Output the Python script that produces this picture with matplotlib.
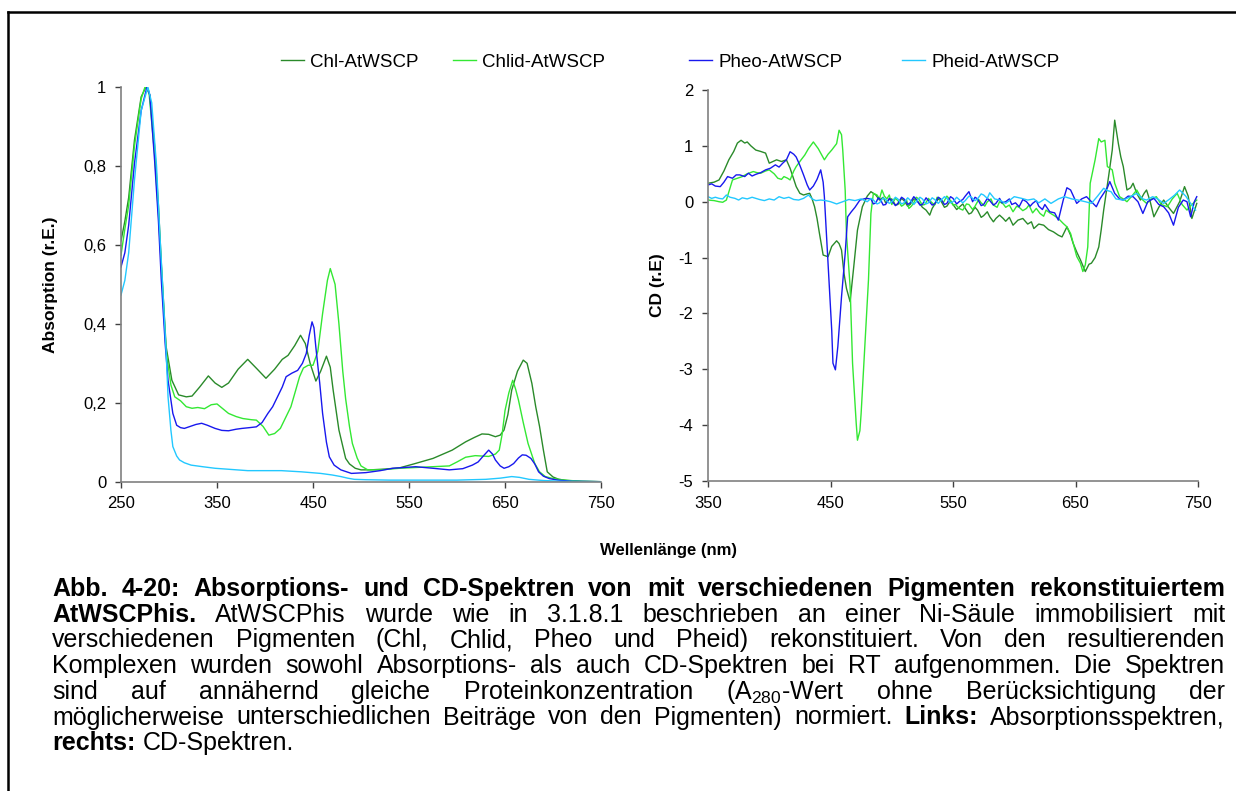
import matplotlib
matplotlib.use("Agg")
import matplotlib.pyplot as plt
from matplotlib.lines import Line2D

plt.rcParams['font.family'] = ['Liberation Sans', 'DejaVu Sans']
plt.rcParams['mathtext.fontset'] = 'custom'
plt.rcParams['mathtext.rm'] = 'Liberation Sans'
plt.rcParams['mathtext.it'] = 'Liberation Sans:italic'
plt.rcParams['mathtext.bf'] = 'Liberation Sans:bold'

# ==========================================
# DATA
# ==========================================
labels = ['Chl-AtWSCP', 'Chlid-AtWSCP', 'Pheo-AtWSCP', 'Pheid-AtWSCP']
colors = ['#2a8a2a', '#33e833', '#1818ee', '#22c8ff']

# --- absorption (left) ---
abs_chl = [(250, 0.61), (254, 0.66), (258, 0.72), (264, 0.865), (271, 0.975), (276, 1.0), (280, 0.98),
           (285, 0.85), (289, 0.70), (292, 0.553), (297, 0.342), (303, 0.257), (310, 0.22), (318, 0.215),
           (324, 0.217), (332, 0.24), (341, 0.268), (348, 0.25), (355, 0.239), (362, 0.25), (372, 0.285),
           (382, 0.31), (392, 0.285), (401, 0.262), (410, 0.285), (418, 0.31), (424, 0.32), (431, 0.345),
           (437, 0.371), (442, 0.35), (447, 0.30), (453, 0.255), (458, 0.28), (464, 0.318), (468, 0.29),
           (471, 0.232), (477, 0.131), (484, 0.059), (488, 0.045), (494, 0.034), (500, 0.03), (510, 0.03),
           (525, 0.032), (540, 0.035), (555, 0.045), (575, 0.059), (595, 0.08), (609, 0.101), (618, 0.112),
           (626, 0.121), (633, 0.12), (640, 0.114), (645, 0.118), (649, 0.131), (653, 0.17), (657, 0.232),
           (663, 0.28), (669, 0.308), (673, 0.30), (678, 0.249), (682, 0.19), (686, 0.14), (690, 0.08),
           (694, 0.025), (700, 0.012), (706, 0.006), (715, 0.003), (730, 0.001), (750, 0.0)]

abs_chlid = [(250, 0.574), (254, 0.64), (258, 0.70), (264, 0.85), (271, 0.97), (275, 1.0), (279, 0.99),
             (285, 0.83), (289, 0.68), (293, 0.50), (297, 0.33), (302, 0.245), (306, 0.215), (312, 0.205),
             (318, 0.19), (324, 0.186), (330, 0.188), (337, 0.185), (344, 0.195), (350, 0.197), (356, 0.185),
             (362, 0.173), (370, 0.165), (377, 0.16), (386, 0.157), (391, 0.156), (398, 0.14), (404, 0.118),
             (410, 0.122), (416, 0.135), (422, 0.165), (427, 0.19), (432, 0.232), (436, 0.266), (440, 0.288),
             (445, 0.295), (450, 0.295), (455, 0.33), (460, 0.426), (465, 0.51), (468, 0.54), (473, 0.50),
             (477, 0.40), (481, 0.28), (484, 0.21), (488, 0.14), (491, 0.097), (496, 0.06), (500, 0.04),
             (507, 0.03), (520, 0.03), (540, 0.034), (575, 0.038), (592, 0.04), (600, 0.05), (609, 0.062),
             (619, 0.066), (633, 0.064), (640, 0.07), (644, 0.08), (647, 0.12), (650, 0.18), (654, 0.225),
             (658, 0.257), (661, 0.235), (664, 0.207), (669, 0.15), (674, 0.097), (681, 0.046), (686, 0.025),
             (692, 0.013), (700, 0.008), (712, 0.004), (730, 0.001), (750, 0.0)]

abs_pheo = [(250, 0.544), (254, 0.58), (258, 0.65), (264, 0.806), (271, 0.94), (277, 1.0), (280, 0.98),
            (285, 0.814), (289, 0.66), (292, 0.51), (296, 0.35), (299, 0.257), (304, 0.173), (308, 0.143),
            (312, 0.137), (316, 0.135), (322, 0.14), (328, 0.145), (334, 0.148), (340, 0.143), (348, 0.135),
            (355, 0.13), (362, 0.129), (370, 0.133), (376, 0.135), (384, 0.137), (391, 0.139), (397, 0.15),
            (403, 0.173), (408, 0.19), (413, 0.215), (418, 0.24), (422, 0.266), (428, 0.275), (434, 0.282),
            (439, 0.30), (443, 0.325), (446, 0.37), (449, 0.405), (451, 0.39), (453, 0.34), (457, 0.25),
            (460, 0.173), (464, 0.10), (467, 0.063), (472, 0.042), (479, 0.03), (490, 0.021), (505, 0.023),
            (520, 0.028), (533, 0.034), (557, 0.038), (575, 0.034), (592, 0.03), (606, 0.033), (616, 0.042),
            (622, 0.05), (627, 0.064), (633, 0.08), (637, 0.07), (640, 0.055), (645, 0.04), (649, 0.034),
            (654, 0.038), (659, 0.046), (664, 0.06), (668, 0.068), (672, 0.067), (677, 0.059), (681, 0.045),
            (685, 0.025), (690, 0.014), (696, 0.008), (705, 0.004), (720, 0.001), (750, 0.0)]

abs_pheid = [(250, 0.473), (254, 0.51), (258, 0.58), (264, 0.763), (271, 0.94), (278, 1.0), (282, 0.96),
             (287, 0.80), (290, 0.65), (294, 0.468), (297, 0.33), (299, 0.215), (302, 0.13), (304, 0.089),
             (308, 0.065), (311, 0.055), (316, 0.048), (323, 0.042), (335, 0.038), (348, 0.034), (365, 0.031),
             (382, 0.028), (400, 0.028), (417, 0.028), (438, 0.025), (458, 0.021), (470, 0.017), (479, 0.013),
             (486, 0.009), (493, 0.006), (505, 0.005), (530, 0.004), (560, 0.004), (600, 0.004), (630, 0.006),
             (645, 0.009), (657, 0.013), (665, 0.011), (675, 0.006), (690, 0.003), (710, 0.001), (750, 0.0)]

# --- CD (right) ---
cd_chl = [(350, 0.33), (355, 0.35), (359, 0.39), (363, 0.55), (367, 0.75), (371, 0.90), (374, 1.05), (377, 1.10),
          (380, 1.05), (382, 1.07), (385, 1.0), (389, 0.925), (393, 0.90), (397, 0.87), (400, 0.69), (403, 0.72),
          (406, 0.75), (410, 0.72), (414, 0.75), (417, 0.60), (420, 0.40), (422, 0.27), (425, 0.15), (428, 0.12),
          (431, 0.14), (433, 0.15), (435, 0.05), (437, -0.09), (439, -0.30), (441, -0.57), (444, -0.955),
          (448, -0.985), (451, -0.80), (455, -0.70), (457, -0.75), (459, -0.865), (461, -1.28), (463, -1.55),
          (466, -1.79), (469, -1.16), (472, -0.51), (476, -0.09), (480, 0.10), (483, 0.18), (487, 0.12),
          (490, 0.03), (493, 0.08), (495, -0.02), (498, 0.04), (500, 0.05), (503, -0.06), (505, -0.05),
          (508, 0.06), (510, 0.02), (513, -0.08), (515, -0.05), (518, 0.05), (520, 0.03), (523, -0.04),
          (525, -0.10), (528, -0.15), (531, -0.24), (533, -0.12), (535, -0.05), (538, 0.05), (540, 0.02),
          (543, -0.1), (545, -0.08), (548, 0.02), (550, -0.05), (553, -0.14), (555, -0.10), (558, -0.04),
          (560, -0.12), (563, -0.22), (565, -0.20), (568, -0.1), (570, -0.15), (573, -0.28), (575, -0.25),
          (578, -0.18), (580, -0.27), (583, -0.36), (585, -0.30), (588, -0.24), (591, -0.3), (593, -0.35),
          (596, -0.28), (599, -0.42), (603, -0.33), (607, -0.30), (611, -0.40), (614, -0.36), (616, -0.48),
          (620, -0.40), (624, -0.42), (628, -0.50), (632, -0.54), (636, -0.60), (639, -0.63), (643, -0.45),
          (646, -0.60), (648, -0.74), (651, -0.90), (654, -1.04), (658, -1.25), (661, -1.12), (663, -1.10),
          (666, -1.0), (669, -0.81), (671, -0.50), (673, -0.15), (675, 0.15), (677, 0.45), (680, 0.925),
          (682, 1.46), (685, 1.04), (687, 0.80), (689, 0.63), (692, 0.21), (695, 0.25), (697, 0.33),
          (700, 0.15), (703, 0.03), (706, 0.15), (708, 0.21), (711, 0.0), (714, -0.27), (718, -0.10),
          (722, 0.03), (726, -0.10), (730, -0.21), (735, 0.0), (739, 0.27), (742, 0.10), (745, -0.30),
          (749, -0.03)]

cd_chlid = [(350, 0.03), (355, 0.02), (359, 0.0), (362, -0.01), (365, 0.03), (368, 0.25), (370, 0.39),
            (374, 0.42), (378, 0.45), (382, 0.50), (387, 0.54), (390, 0.52), (393, 0.51), (397, 0.55),
            (400, 0.57), (404, 0.50), (407, 0.42), (410, 0.40), (412, 0.45), (415, 0.42), (417, 0.39),
            (420, 0.55), (422, 0.63), (426, 0.75), (429, 0.836), (432, 0.95), (436, 1.07), (440, 0.95),
            (445, 0.75), (448, 0.85), (451, 0.925), (455, 1.04), (457, 1.28), (459, 1.20), (460, 0.925),
            (462, 0.20), (463, -0.57), (466, -1.52), (468, -2.89), (471, -3.97), (472, -4.27), (474, -4.10),
            (475, -3.79), (478, -2.59), (481, -1.40), (483, -0.21), (485, 0.15), (488, 0.12), (490, 0.05),
            (492, 0.21), (494, 0.1), (496, 0.05), (498, 0.12), (500, -0.05), (503, 0.06), (505, 0.02),
            (508, -0.08), (510, -0.05), (512, 0.04), (514, -0.12), (516, -0.08), (518, -0.02), (520, 0.08),
            (522, 0.05), (525, -0.06), (527, -0.05), (530, 0.06), (532, 0.0), (535, -0.06), (537, 0.08),
            (540, 0.04), (542, -0.02), (545, 0.1), (547, 0.05), (550, -0.06), (552, -0.05), (555, -0.12),
            (558, -0.15), (561, -0.04), (563, -0.05), (566, -0.14), (568, -0.08), (571, 0.04), (573, -0.02),
            (576, -0.08), (578, 0.0), (581, 0.05), (583, -0.06), (586, -0.1), (588, 0.0), (591, -0.04),
            (593, -0.10), (596, -0.06), (599, -0.18), (602, -0.08), (604, -0.10), (607, -0.16), (610, -0.12),
            (612, -0.06), (615, -0.20), (618, -0.12), (621, -0.21), (624, -0.26), (626, -0.15), (629, -0.2),
            (632, -0.24), (636, -0.30), (640, -0.39), (643, -0.45), (646, -0.57), (651, -0.98), (654, -1.10),
            (656, -1.25), (658, -1.13), (660, -0.81), (662, 0.33), (666, 0.75), (669, 1.13), (671, 1.07),
            (674, 1.10), (676, 0.63), (680, 0.57), (682, 0.33), (686, 0.09), (689, 0.05), (692, 0.0),
            (696, 0.10), (700, 0.21), (704, 0.05), (708, -0.03), (712, 0.05), (716, 0.09), (720, -0.05),
            (725, -0.09), (729, 0.05), (733, 0.15), (737, -0.05), (741, -0.15), (745, -0.05), (749, 0.03)]

cd_pheo = [(350, 0.30), (353, 0.32), (356, 0.28), (360, 0.27), (363, 0.35), (366, 0.45), (370, 0.42),
           (373, 0.48), (376, 0.48), (380, 0.45), (383, 0.51), (386, 0.46), (389, 0.49), (393, 0.52),
           (397, 0.57), (401, 0.60), (405, 0.66), (408, 0.62), (411, 0.69), (414, 0.75), (417, 0.895),
           (420, 0.85), (422, 0.80), (425, 0.65), (428, 0.48), (431, 0.30), (433, 0.21), (436, 0.28),
           (439, 0.40), (442, 0.57), (444, 0.35), (445, 0.09), (448, -1.10), (451, -2.30), (452, -2.89),
           (454, -3.01), (456, -2.59), (459, -1.70), (462, -0.92), (464, -0.27), (467, -0.18), (470, -0.10),
           (474, 0.03), (479, 0.06), (483, 0.05), (485, -0.04), (487, -0.02), (489, 0.07), (491, 0.03),
           (493, -0.06), (495, -0.05), (498, 0.06), (500, 0.02), (503, -0.07), (505, -0.03), (508, 0.08),
           (510, 0.05), (513, -0.05), (515, -0.02), (518, 0.09), (520, 0.04), (523, -0.06), (525, -0.05),
           (528, 0.07), (530, 0.02), (533, -0.06), (535, -0.04), (538, 0.08), (540, 0.05), (543, -0.05),
           (545, -0.03), (548, 0.09), (550, 0.06), (553, -0.04), (555, 0.0), (558, 0.04), (560, 0.10),
           (563, 0.18), (566, 0.0), (568, 0.08), (570, 0.05), (573, -0.07), (575, -0.05), (578, 0.06),
           (580, 0.02), (583, -0.06), (585, -0.03), (588, 0.06), (590, -0.02), (593, 0.0), (596, 0.05),
           (598, -0.05), (601, -0.02), (604, -0.09), (607, 0.04), (610, 0.0), (613, -0.08), (615, -0.03),
           (618, 0.02), (620, -0.08), (623, -0.14), (625, -0.05), (629, -0.18), (633, -0.20), (636, -0.33),
           (640, 0.03), (643, 0.25), (646, 0.21), (651, -0.03), (655, 0.05), (659, 0.09), (663, 0.0),
           (667, -0.09), (670, 0.05), (673, 0.15), (676, 0.25), (678, 0.36), (682, 0.15), (686, 0.05),
           (689, 0.03), (693, 0.10), (697, 0.09), (701, 0.0), (705, -0.21), (709, 0.0), (714, 0.06),
           (718, -0.05), (722, -0.09), (726, -0.20), (730, -0.42), (734, -0.10), (738, 0.03), (741, 0.0),
           (744, -0.27), (747, 0.0), (749, 0.09)]

cd_pheid = [(350, 0.09), (353, 0.06), (356, 0.08), (359, 0.06), (362, 0.05), (365, 0.12), (368, 0.08),
            (372, 0.06), (375, 0.03), (378, 0.07), (382, 0.05), (386, 0.08), (389, 0.06), (392, 0.04),
            (396, 0.02), (400, 0.05), (404, 0.03), (408, 0.09), (412, 0.06), (416, 0.08), (420, 0.04),
            (424, 0.03), (428, 0.06), (432, 0.12), (435, 0.05), (438, 0.02), (442, 0.03), (446, 0.02),
            (450, 0.0), (455, -0.04), (460, 0.0), (465, 0.04), (470, 0.02), (475, 0.05), (480, 0.0),
            (483, 0.06), (485, 0.03), (488, -0.04), (490, -0.02), (493, 0.07), (495, 0.04), (498, -0.03),
            (500, 0.0), (503, 0.08), (505, 0.05), (508, -0.04), (510, -0.02), (513, 0.07), (515, 0.03),
            (518, -0.05), (520, 0.0), (523, 0.08), (525, 0.05), (528, -0.04), (530, -0.02), (533, 0.07),
            (535, 0.04), (538, -0.03), (540, 0.02), (543, 0.09), (545, 0.06), (548, -0.02), (550, 0.0),
            (553, 0.08), (555, 0.04), (558, -0.02), (560, 0.02), (563, 0.1), (565, 0.08), (568, 0.02),
            (570, 0.05), (573, 0.14), (575, 0.12), (578, 0.06), (580, 0.16), (584, 0.05), (588, 0.03),
            (593, -0.03), (600, 0.09), (606, 0.06), (611, 0.03), (616, 0.05), (620, -0.02), (625, 0.05),
            (630, -0.03), (636, 0.05), (641, 0.09), (647, 0.05), (652, 0.03), (658, 0.0), (663, -0.03),
            (668, 0.10), (673, 0.24), (676, 0.20), (679, 0.18), (683, 0.05), (689, 0.03), (694, 0.08),
            (700, 0.15), (705, 0.05), (708, 0.03), (713, 0.09), (717, 0.05), (722, -0.03), (727, 0.05),
            (731, 0.12), (735, 0.21), (740, 0.10), (744, -0.03), (748, -0.15)]

abs_series = [abs_chl, abs_chlid, abs_pheo, abs_pheid]
cd_series = [cd_chl, cd_chlid, cd_pheo, cd_pheid]

abs_ticks = [0, 0.2, 0.4, 0.6, 0.8, 1]
abs_ticklabels = ['0', '0,2', '0,4', '0,6', '0,8', '1']
cd_ticks = [-5, -4, -3, -2, -1, 0, 1, 2]
cd_ticklabels = ['-5', '-4', '-3', '-2', '-1', '0', '1', '2']
abs_xticks = [250, 350, 450, 550, 650, 750]
cd_xticks = [350, 450, 550, 650, 750]

caption = [
    ([("Abb. 4-20: Absorptions- und CD-Spektren von mit verschiedenen Pigmenten rekonstituiertem", True)], True),
    ([("AtWSCPhis.", True), ("AtWSCPhis wurde wie in 3.1.8.1 beschrieben an einer Ni-Säule immobilisiert mit", False)], True),
    ([("verschiedenen Pigmenten (Chl, Chlid, Pheo und Pheid) rekonstituiert. Von den resultierenden", False)], True),
    ([("Komplexen wurden sowohl Absorptions- als auch CD-Spektren bei RT aufgenommen. Die Spektren", False)], True),
    ([("sind auf annähernd gleiche Proteinkonzentration (A$_{280}$-Wert ohne Berücksichtigung der", False)], True),
    ([("möglicherweise unterschiedlichen Beiträge von den Pigmenten) normiert.", False), ("Links:", True),
      ("Absorptionsspektren,", False)], True),
    ([("rechts:", True), ("CD-Spektren.", False)], False),
]

# ==========================================
# FIGURE
# ==========================================
W, H = 1236, 791
fig = plt.figure(figsize=(W / 100, H / 100), dpi=100)

ax1 = fig.add_axes([121 / W, 1 - 481.7 / H, 480 / W, 394.7 / H])
ax2 = fig.add_axes([708 / W, 1 - 481 / H, 490 / W, 391 / H])

for ax in (ax1, ax2):
    for s in ('top', 'right'):
        ax.spines[s].set_visible(False)
    for s in ('left', 'bottom'):
        ax.spines[s].set_color('#808080')
        ax.spines[s].set_linewidth(1.2)
    ax.tick_params(direction='out', length=4.5, width=1, color='#404040', labelsize=12, pad=6)

handles = []
for data, c, lab in zip(abs_series, colors, labels):
    wl = [p[0] for p in data]
    val = [p[1] for p in data]
    h, = ax1.plot(wl, val, color=c, lw=1.0, label=lab)
    handles.append(h)

for data, c in zip(cd_series, colors):
    wl = [p[0] for p in data]
    val = [p[1] for p in data]
    ax2.plot(wl, val, color=c, lw=1.0)

ax1.set_xlim(250, 750)
ax1.set_ylim(0, 1)
ax1.set_xticks(abs_xticks)
ax1.set_yticks(abs_ticks)
ax1.set_yticklabels(abs_ticklabels)
ax1.set_ylabel('Absorption (r.E.)', fontsize=12.5, fontweight='bold', labelpad=18)

ax2.set_xlim(350, 750)
ax2.set_ylim(-5, 2)
ax2.set_xticks(cd_xticks)
ax2.set_yticks(cd_ticks)
ax2.set_yticklabels(cd_ticklabels)
ax2.set_ylabel('CD (r.E)', fontsize=12.5, fontweight='bold', labelpad=10)

fig.text(668 / W, 1 - 550 / H, 'Wellenlänge (nm)', ha='center', va='center',
         fontsize=12, fontweight='bold')

# legend entries placed like the original (Excel) layout
legend_x = [281, 453, 689, 902]
for h, lx in zip(handles, legend_x):
    fig.legend(handles=[h], loc='center left', bbox_to_anchor=(lx / W, 1 - 62 / H),
               frameon=False, fontsize=13.5, handlelength=1.25, handletextpad=0.3,
               borderpad=0, borderaxespad=0)

# frame lines (top and left edge of the page box)
fig.add_artist(Line2D([8 / W, 8 / W], [0, 1 - 12 / H], transform=fig.transFigure, color='black', lw=1.8))
fig.add_artist(Line2D([8 / W, 1], [1 - 12 / H, 1 - 12 / H], transform=fig.transFigure, color='black', lw=1.8))

# justified caption
renderer = fig.canvas.get_renderer()
cap_size = 18
x0, x1 = 52, 1225
base0, step = 596, 25.7
for i, (segments, justify) in enumerate(caption):
    y = 1 - (base0 + i * step) / H
    texts = []
    for seg, bold in segments:
        for w in seg.split(' '):
            texts.append(fig.text(0, y, w, fontsize=cap_size, va='baseline',
                                  fontweight='bold' if bold else 'normal'))
    widths = [t.get_window_extent(renderer).width for t in texts]
    if justify:
        gap = (x1 - x0 - sum(widths)) / (len(texts) - 1)
    else:
        gap = cap_size * 0.278 * 100 / 72
    x = x0
    for t, w in zip(texts, widths):
        t.set_x(x / W)
        x += w + gap

fig.savefig('out.png', dpi=100)
